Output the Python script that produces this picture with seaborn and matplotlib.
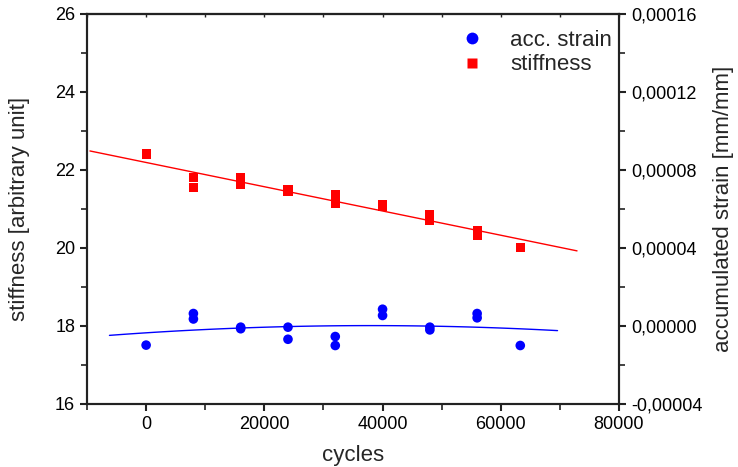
import numpy as np
import pandas as pd
import matplotlib
matplotlib.use("Agg")
import matplotlib.pyplot as plt
import seaborn as sns
from matplotlib.ticker import MultipleLocator, FuncFormatter
from matplotlib.lines import Line2D

# ---- data ----
stiff_cycles = [0, 8000, 8000, 16000, 16000, 24000, 24000, 32000, 32000,
                40000, 40000, 48000, 48000, 56000, 56000, 63300]
stiffness = [22.41, 21.80, 21.55, 21.81, 21.62, 21.50, 21.45, 21.36, 21.15,
             21.12, 21.07, 20.85, 20.72, 20.44, 20.33, 20.01]

strain_cycles = [0, 8000, 8000, 16000, 16000, 24000, 24000, 32000, 32000,
                 40000, 40000, 48000, 48000, 56000, 56000, 63300]
acc_strain = [-0.0000098, 0.0000064, 0.0000036, -0.0000006, -0.0000014,
              -0.0000006, -0.0000068, -0.0000054, -0.0000100,
              0.0000086, 0.0000054, -0.0000006, -0.0000020,
              0.0000064, 0.0000042, -0.0000100]

stiff_fit_range = [-9500, 72900]
strain_fit_range = [-6200, 69600]

x_ticks = [0, 20000, 40000, 60000, 80000]

# ---- style ----
sns.set_style("ticks")
plt.rcParams['font.family'] = ['Liberation Sans', 'DejaVu Sans']

fig = plt.figure(figsize=(7.38, 4.67), dpi=100)
ax = fig.add_axes([87/738, 63/467, (619-87)/738, (404-14)/467])
ax2 = ax.twinx()

df_s = pd.DataFrame({"cycles": stiff_cycles, "stiffness": stiffness})
df_e = pd.DataFrame({"cycles": strain_cycles, "strain": acc_strain})

# fits
p1 = np.polyfit(df_s["cycles"], df_s["stiffness"], 1)
xs1 = np.linspace(*stiff_fit_range, 100)
p2 = np.polyfit(df_e["cycles"], df_e["strain"], 2)
xs2 = np.linspace(*strain_fit_range, 100)

sns.lineplot(x=xs1, y=np.polyval(p1, xs1), ax=ax, color='#ff0000', lw=1.0)
sns.scatterplot(data=df_s, x="cycles", y="stiffness", ax=ax, marker='s',
                color='#ff0000', s=44, edgecolor='none', zorder=3)

sns.lineplot(x=xs2, y=np.polyval(p2, xs2), ax=ax2, color='#0000ff', lw=1.0)
sns.scatterplot(data=df_e, x="cycles", y="strain", ax=ax2, marker='o',
                color='#0000ff', s=48, edgecolor='none', zorder=3)

ax.set_xlim(-10000, 80000)
ax.set_ylim(16, 26)
ax2.set_ylim(-0.00004, 0.00016)

ax.set_xticks(x_ticks)
ax.xaxis.set_minor_locator(MultipleLocator(10000))
ax.yaxis.set_major_locator(MultipleLocator(2))
ax.yaxis.set_minor_locator(MultipleLocator(1))
ax2.yaxis.set_major_locator(MultipleLocator(0.00004))
ax2.yaxis.set_minor_locator(MultipleLocator(0.00002))
ax2.yaxis.set_major_formatter(FuncFormatter(
    lambda v, p: f"{v:.5f}".replace('.', ',').replace('-0,00000', '0,00000')))

for a in (ax, ax2):
    for sp in a.spines.values():
        sp.set_linewidth(1.5)
        sp.set_color('#222222')
        sp.set_visible(True)

ax.tick_params(axis='both', which='major', direction='out', length=5, width=1.5,
               labelsize=13, colors='#222222', labelcolor='black')
ax.tick_params(axis='both', which='minor', direction='out', length=4, width=1.2, colors='#222222')
ax.tick_params(axis='y', which='both', right=False)
ax2.tick_params(axis='y', which='major', direction='out', length=5, width=1.5,
                labelsize=13, colors='#222222', labelcolor='black')
ax2.tick_params(axis='y', which='minor', direction='out', length=4, width=1.2, colors='#222222')

top = ax.secondary_xaxis('top')
top.set_xticks(list(range(-10000, 80001, 10000)))
top.tick_params(direction='in', length=2.5, width=1.0, labeltop=False, colors='#222222')
top.spines['top'].set_linewidth(1.5)

ax.set_xlabel("cycles", fontsize=16, labelpad=9)
ax.set_ylabel("stiffness [arbitrary unit]", fontsize=16, labelpad=18)
ax2.set_ylabel("accumulated strain [mm/mm]", fontsize=16, labelpad=8)

handles = [Line2D([], [], ls='none', marker='o', color='#0000ff', markersize=8.5, mec='none'),
           Line2D([], [], ls='none', marker='s', color='#ff0000', markersize=6.5, mec='none')]
ax.legend(handles, ["acc. strain", "stiffness"], loc='upper right', frameon=False,
          fontsize=16, bbox_to_anchor=(1.025, 1.01), handletextpad=1.0, labelspacing=0.15,
          handlelength=1.5)

fig.savefig("out.png", dpi=100)
